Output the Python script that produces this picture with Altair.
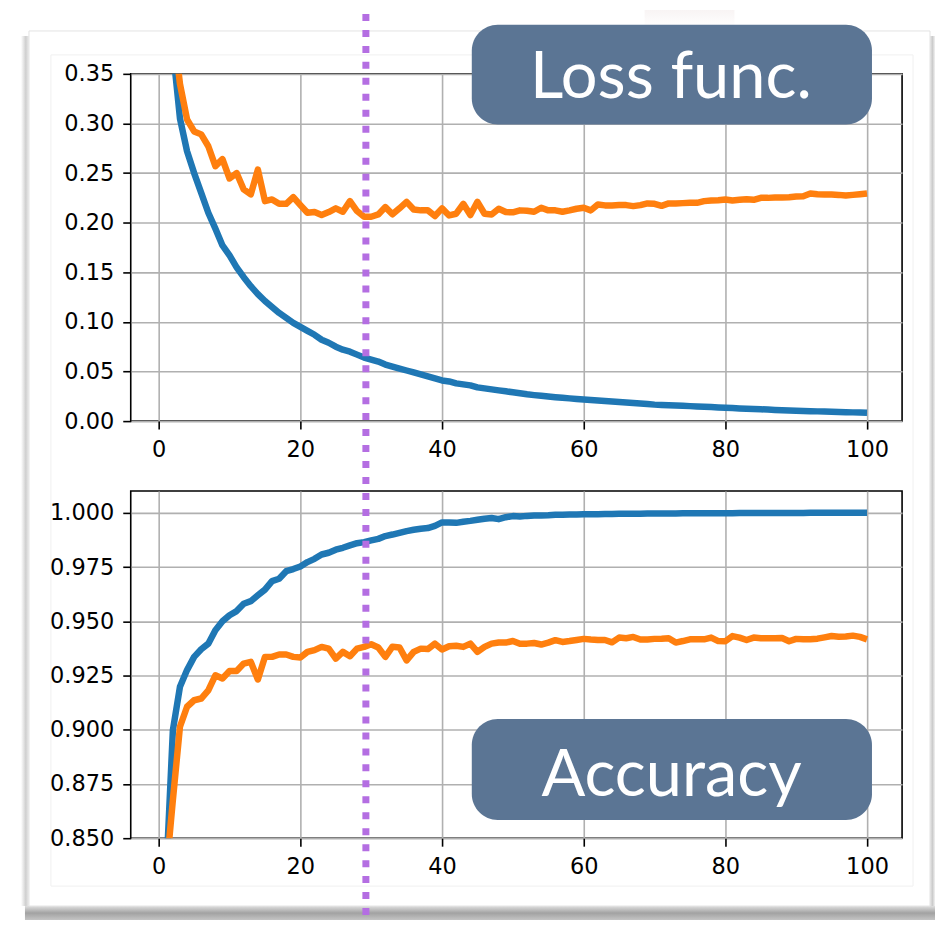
import altair as alt
import pandas as pd

# ---------------- data ----------------
epochs = list(range(1, 101))

train_loss = [
    0.600, 0.375, 0.305, 0.272, 0.250, 0.230, 0.210, 0.194, 0.177, 0.167,
    0.155, 0.145, 0.136, 0.128, 0.121, 0.115, 0.109, 0.104, 0.099, 0.095,
    0.091, 0.087, 0.082, 0.079, 0.075, 0.072, 0.070, 0.067, 0.064, 0.062,
    0.060, 0.057, 0.055, 0.053, 0.051, 0.049, 0.047, 0.045, 0.043, 0.041,
    0.040, 0.038, 0.037, 0.036, 0.034, 0.033, 0.032, 0.031, 0.030, 0.029,
    0.028, 0.027, 0.0262, 0.0255, 0.0248, 0.0241, 0.0235, 0.0229, 0.0223, 0.0218,
    0.0213, 0.0208, 0.0203, 0.0198, 0.0193, 0.0188, 0.0183, 0.0178, 0.0172, 0.0166,
    0.0163, 0.0160, 0.0157, 0.0154, 0.0151, 0.0148, 0.0145, 0.0142, 0.0138, 0.0134,
    0.0131, 0.0128, 0.0125, 0.0122, 0.0119, 0.0116, 0.0113, 0.0110, 0.0107, 0.0104,
    0.0102, 0.0100, 0.0098, 0.0096, 0.0094, 0.0092, 0.0090, 0.0088, 0.0086, 0.0084,
]

val_loss = [
    0.550, 0.400, 0.340, 0.304, 0.292, 0.289, 0.277, 0.257, 0.264, 0.2445,
    0.250, 0.2335, 0.2285, 0.2535, 0.2217, 0.2234, 0.219, 0.219, 0.2257, 0.2177,
    0.210, 0.2107, 0.2077, 0.2107, 0.2144, 0.211, 0.2217, 0.2117, 0.206, 0.206,
    0.2083, 0.2157, 0.2085, 0.2145, 0.221, 0.2133, 0.2124, 0.2124, 0.2067, 0.2144,
    0.2073, 0.209, 0.219, 0.2077, 0.221, 0.209, 0.2083, 0.214, 0.2107, 0.2104,
    0.2124, 0.212, 0.211, 0.215, 0.2124, 0.2124, 0.211, 0.2124, 0.214, 0.215,
    0.2124, 0.2184, 0.2174, 0.2174, 0.2177, 0.2177, 0.2167, 0.2177, 0.2194, 0.219,
    0.217, 0.2194, 0.2194, 0.2197, 0.2200, 0.2200, 0.2217, 0.2224, 0.2227, 0.2234,
    0.2224, 0.223, 0.2237, 0.223, 0.225, 0.225, 0.2254, 0.2254, 0.2257, 0.2264,
    0.2267, 0.2294, 0.2287, 0.2284, 0.2284, 0.228, 0.2274, 0.228, 0.2287, 0.2294,
]

train_acc = [
    0.829, 0.8998, 0.9198, 0.9275, 0.9336, 0.9371, 0.9397, 0.9459, 0.9500, 0.9528,
    0.9547, 0.9581, 0.9593, 0.9620, 0.9646, 0.9685, 0.9696, 0.9731, 0.9741, 0.9753,
    0.9773, 0.9788, 0.9808, 0.9816, 0.9830, 0.9839, 0.9850, 0.9860, 0.9865, 0.9873,
    0.9880, 0.9893, 0.9900, 0.9908, 0.9916, 0.9922, 0.9927, 0.9930, 0.9940, 0.9956,
    0.9956, 0.9954, 0.9959, 0.9963, 0.9968, 0.9973, 0.9976, 0.9971, 0.9980, 0.9985,
    0.9983, 0.9986, 0.9988, 0.9988, 0.9989, 0.9991, 0.9991, 0.9992, 0.9992, 0.9994,
    0.9994, 0.9994, 0.9995, 0.9995, 0.9996, 0.9996, 0.9996, 0.9996, 0.9997, 0.9997,
    0.9997, 0.9997, 0.9997, 0.9998, 0.9998, 0.9998, 0.9998, 0.9998, 0.9998, 0.9998,
    0.9998, 0.9999, 0.9999, 0.9999, 0.9999, 0.9999, 0.9999, 0.9999, 0.9999, 0.9999,
    0.9999, 1.0000, 1.0000, 1.0000, 1.0000, 1.0000, 1.0000, 1.0000, 1.0000, 1.0000,
]

val_acc = [
    0.832, 0.8676, 0.9014, 0.9106, 0.9136, 0.9144, 0.9182, 0.9251, 0.9236, 0.9271,
    0.9271, 0.9305, 0.9313, 0.9232, 0.9336, 0.9336, 0.9347, 0.9347, 0.9336, 0.9333,
    0.9359, 0.9367, 0.9382, 0.9374, 0.9328, 0.9359, 0.9339, 0.9374, 0.9382, 0.9394,
    0.9379, 0.9336, 0.9383, 0.9379, 0.9320, 0.9359, 0.9374, 0.9372, 0.9397, 0.9370,
    0.9385, 0.9387, 0.9382, 0.9397, 0.9359, 0.9382, 0.9397, 0.9402, 0.9402, 0.9409,
    0.9396, 0.9397, 0.9400, 0.9393, 0.9402, 0.9413, 0.9405, 0.9409, 0.9414, 0.9419,
    0.9416, 0.9414, 0.9414, 0.9403, 0.9425, 0.9422, 0.9428, 0.9416, 0.9416, 0.9419,
    0.9420, 0.9422, 0.9402, 0.9409, 0.9417, 0.9417, 0.9417, 0.9425, 0.9409, 0.9408,
    0.9432, 0.9425, 0.9414, 0.9425, 0.9422, 0.9422, 0.9422, 0.9423, 0.9408, 0.9419,
    0.9417, 0.9417, 0.9420, 0.9426, 0.9432, 0.9429, 0.9430, 0.9434, 0.9428, 0.9417,
]

series_names = ["train", "val"]
series_colors = ["#1f77b4", "#ff7f0e"]

x_ticks = [0, 20, 40, 60, 80, 100]
loss_ticks = [0.00, 0.05, 0.10, 0.15, 0.20, 0.25, 0.30, 0.35]
acc_ticks = [0.850, 0.875, 0.900, 0.925, 0.950, 0.975, 1.000]

x_domain = [-3.95, 104.95]
loss_domain = [0.0, 0.35]
acc_domain = [0.85, 1.0101]

marker_epoch = [29.25]

# label boxes (data units of their panel)
label_texts = ["Loss func.", "Accuracy"]
loss_box = {"x1": 44.2, "x2": 100.7, "y1": 0.3995, "y2": 0.299, "tx": 72.3, "ty": 0.3252}
acc_box = {"x1": 44.2, "x2": 100.7, "y1": 0.9049, "y2": 0.8584, "tx": 72.4, "ty": 0.8695}

# ---------------- helpers ----------------
W, H_TOP, H_BOT = 773, 348, 348
OX, OY = 130, 72  # top panel plot origin on the page
OY2 = 490         # bottom panel plot origin

x_scale = alt.Scale(domain=x_domain, nice=False, zero=False)
x_axis = alt.Axis(values=x_ticks, format="d", title=None)


def X(field):
    return alt.X(field, type="quantitative", scale=x_scale, axis=x_axis)


def Y(field, domain, ticks, fmt):
    return alt.Y(field, type="quantitative",
                 scale=alt.Scale(domain=domain, nice=False, zero=False),
                 axis=alt.Axis(values=ticks, format=fmt, title=None))


color = alt.Color("series:N", scale=alt.Scale(domain=series_names, range=series_colors), legend=None)
one = pd.DataFrame({"k": [0]})


def px(ax, ay, ax2, ay2, oy):
    """absolute page pixels -> panel-relative value encodings"""
    return dict(x=alt.value(ax - OX), x2=alt.value(ax2 - OX),
                y=alt.value(ay - oy), y2=alt.value(ay2 - oy))


# ---------------- top panel ----------------
loss_df = pd.DataFrame({
    "epoch": epochs * 2,
    "value": train_loss + val_loss,
    "series": ["train"] * 100 + ["val"] * 100,
})

bounds_rect = alt.Chart(one).mark_rect(fill="white", opacity=0).encode(**px(8, 8, 936, 920, OY))

left_shadow = alt.Chart(one).mark_rect(fill=alt.LinearGradient(
    gradient="linear", x1=0, x2=1, y1=0, y2=0,
    stops=[alt.GradientStop(offset=0, color="#ffffff"),
           alt.GradientStop(offset=0.6, color="#cfcfcf"),
           alt.GradientStop(offset=1, color="#ececec")])).encode(**px(20, 34, 28, 906, OY))

right_shadow = alt.Chart(one).mark_rect(fill=alt.LinearGradient(
    gradient="linear", x1=0, x2=1, y1=0, y2=0,
    stops=[alt.GradientStop(offset=0, color="#e6e6e6"),
           alt.GradientStop(offset=0.5, color="#cccccc"),
           alt.GradientStop(offset=1, color="#f2f2f2")])).encode(**px(931, 34, 936, 910, OY))

bottom_shadow = alt.Chart(one).mark_rect(fill=alt.LinearGradient(
    gradient="linear", x1=0, x2=0, y1=0, y2=1,
    stops=[alt.GradientStop(offset=0, color="#dedede"),
           alt.GradientStop(offset=0.5, color="#a2a2a2"),
           alt.GradientStop(offset=1, color="#c4c4c4")])).encode(**px(24, 906, 936, 920, OY))

card = alt.Chart(one).mark_rect(fillOpacity=0, stroke="#e3e3e3", strokeWidth=1).encode(**px(28, 29, 931, 906, OY))
inner = alt.Chart(one).mark_rect(fillOpacity=0, stroke="#f0f0f0", strokeWidth=1).encode(**px(50, 53, 914, 886, OY))

blur = alt.Chart(one).mark_rect(opacity=0.18, fill=alt.LinearGradient(
    gradient="linear", x1=0, x2=0, y1=0, y2=1,
    stops=[alt.GradientStop(offset=0, color="#d9c3c3"),
           alt.GradientStop(offset=1, color="#ffffff")])).encode(**px(645, 8, 735, 26, OY))

loss_lines = alt.Chart(loss_df).mark_line(strokeWidth=6.5, clip=True, strokeJoin="round").encode(
    x=X("epoch"), y=Y("value", loss_domain, loss_ticks, ".2f"), color=color,
    order=alt.Order("epoch:Q"))

rule_df = pd.DataFrame({"epoch": marker_epoch})
rule_top = alt.Chart(rule_df).mark_rule(color="#b46ee2", strokeWidth=7, strokeDash=[7, 9]).encode(
    x=X("epoch"), y=alt.value(12 - OY), y2=alt.value(428 - OY))

loss_box_df = pd.DataFrame([dict(loss_box, label=label_texts[0])])
box_top = alt.Chart(loss_box_df).mark_rect(cornerRadius=26, color="#5b7594").encode(
    x=X("x1"), x2="x2", y=Y("y1", loss_domain, loss_ticks, ".2f"), y2="y2")
txt_top = alt.Chart(loss_box_df).mark_text(
    font="Lato", fontSize=65, color="white", align="center",
    baseline="alphabetic").encode(x=X("tx"), y=Y("ty", loss_domain, loss_ticks, ".2f"), text="label:N")

top = alt.layer(bounds_rect, left_shadow, right_shadow, bottom_shadow, card, inner, blur,
                loss_lines, rule_top, box_top, txt_top).properties(width=W, height=H_TOP)

# ---------------- bottom panel ----------------
acc_df = pd.DataFrame({
    "epoch": epochs * 2,
    "value": train_acc + val_acc,
    "series": ["train"] * 100 + ["val"] * 100,
})

acc_lines = alt.Chart(acc_df).mark_line(strokeWidth=6.5, clip=True, strokeJoin="round").encode(
    x=X("epoch"), y=Y("value", acc_domain, acc_ticks, ".3f"), color=color,
    order=alt.Order("epoch:Q"))

rule_bot = alt.Chart(rule_df).mark_rule(color="#b46ee2", strokeWidth=7, strokeDash=[7, 9]).encode(
    x=X("epoch"), y=alt.value(428 - OY2), y2=alt.value(920 - OY2))

acc_box_df = pd.DataFrame([dict(acc_box, label=label_texts[1])])
box_bot = alt.Chart(acc_box_df).mark_rect(cornerRadius=26, color="#5b7594").encode(
    x=X("x1"), x2="x2", y=Y("y1", acc_domain, acc_ticks, ".3f"), y2="y2")
txt_bot = alt.Chart(acc_box_df).mark_text(
    font="Lato", fontSize=65, color="white", align="center",
    baseline="alphabetic").encode(x=X("tx"), y=Y("ty", acc_domain, acc_ticks, ".3f"), text="label:N")

bottom = alt.layer(acc_lines, rule_bot, box_bot, txt_bot).properties(width=W, height=H_BOT)

chart = alt.vconcat(top, bottom, spacing=OY2 - OY - H_TOP, bounds="flush").properties(
    padding=0, background="white"
).configure_view(
    stroke="black", strokeWidth=1.6
).configure_axis(
    grid=True, gridColor="#b0b0b0", gridWidth=1.6, domain=False,
    tickColor="black", tickWidth=1.6, tickSize=8,
    labelFont="DejaVu Sans", labelFontSize=22.5, labelColor="black",
    labelPadding=9, labelFlush=False, labelOverlap=False,
)

chart.save("out.html", embed_options={"renderer": "svg", "actions": False})
